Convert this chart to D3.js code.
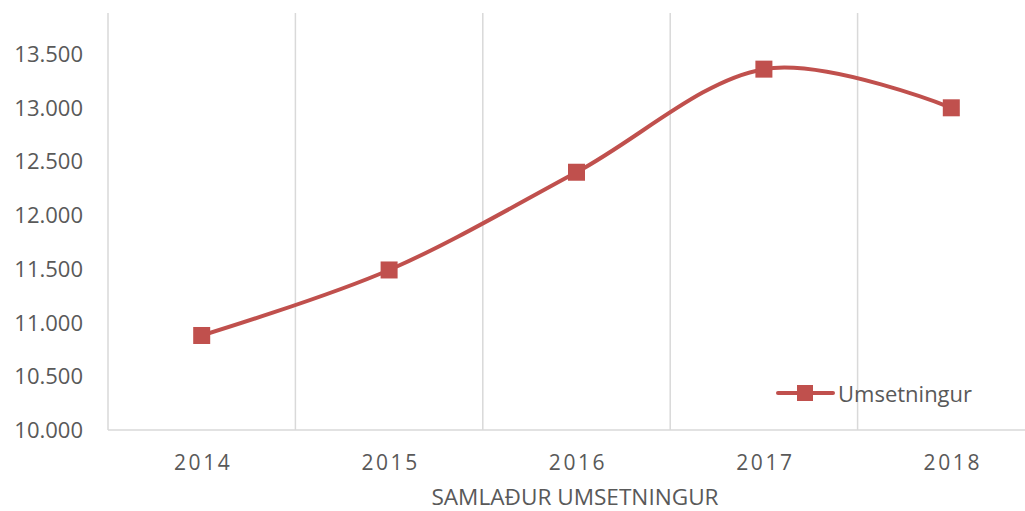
<!DOCTYPE html>
<html lang="is">
<head>
    <meta charset="UTF-8">
    <title>Samlaður umsetningur</title>
    <script src="https://d3js.org/d3.v7.min.js"></script>
    <style>
        body { margin: 0; background: #fff; }
        text { font-family: "Open Sans", "Noto Sans", sans-serif; fill: #595959; }
    </style>
</head>
<body>
    <div id="chart"></div>

    <script>
        // Data
        const years = ["2014", "2015", "2016", "2017", "2018"];
        const umsetningur = [10880, 11490, 12400, 13360, 13000];
        const yTicks = [10000, 10500, 11000, 11500, 12000, 12500, 13000, 13500];
        const seriesName = "Umsetningur";
        const axisTitle = "SAMLAÐUR UMSETNINGUR";

        const W = 1025, H = 511;
        const plot = { left: 108, right: 1045, top: 13, bottom: 430 };
        const red = "#c0504d";
        const grid = "#d9d9d9";

        const svg = d3.select("#chart")
            .append("svg")
            .attr("width", W)
            .attr("height", H);

        const x = d3.scaleBand()
            .domain(years)
            .range([plot.left, plot.right])
            .paddingInner(0)
            .paddingOuter(0);

        const y = d3.scaleLinear()
            .domain([10000, 14000])
            .range([plot.bottom, plot.bottom - 4 * 107.4]);

        const fmt = v => d3.format(",")(v).replace(/,/g, ".");

        // vertical gridlines at category boundaries
        svg.append("g")
            .selectAll("line")
            .data(years.slice(1))
            .join("line")
            .attr("x1", d => x(d))
            .attr("x2", d => x(d))
            .attr("y1", plot.top)
            .attr("y2", plot.bottom)
            .attr("stroke", grid)
            .attr("stroke-width", 1.5);

        // left axis line + bottom axis line
        svg.append("line")
            .attr("x1", plot.left).attr("x2", plot.left)
            .attr("y1", plot.top).attr("y2", plot.bottom)
            .attr("stroke", grid).attr("stroke-width", 1.5);
        svg.append("line")
            .attr("x1", plot.left).attr("x2", W)
            .attr("y1", plot.bottom).attr("y2", plot.bottom)
            .attr("stroke", grid).attr("stroke-width", 1.5);

        // y tick labels
        svg.append("g")
            .selectAll("text")
            .data(yTicks)
            .join("text")
            .attr("x", 83)
            .attr("y", d => y(d))
            .attr("dy", "0.36em")
            .attr("text-anchor", "end")
            .style("font-size", "22px")
            .text(fmt);

        // x tick labels
        svg.append("g")
            .selectAll("text")
            .data(years)
            .join("text")
            .attr("x", d => x(d) + x.bandwidth() / 2 + 1.5)
            .attr("y", 470)
            .attr("text-anchor", "middle")
            .style("font-size", "21px")
            .style("letter-spacing", "2.6px")
            .text(d => d);

        // axis title
        svg.append("text")
            .attr("x", 575)
            .attr("y", 505)
            .attr("text-anchor", "middle")
            .style("font-size", "22.6px")
            .text(axisTitle);

        // smoothed line
        const pts = years.map((yr, i) => [x(yr) + x.bandwidth() / 2, y(umsetningur[i])]);
        svg.append("path")
            .datum(pts)
            .attr("fill", "none")
            .attr("stroke", red)
            .attr("stroke-width", 4)
            .attr("stroke-linejoin", "round")
            .attr("d", d3.line().curve(d3.curveCardinal.tension(0)));

        // markers
        svg.append("g")
            .selectAll("rect")
            .data(pts)
            .join("rect")
            .attr("x", d => d[0] - 8.5)
            .attr("y", d => d[1] - 8.5)
            .attr("width", 17)
            .attr("height", 17)
            .attr("fill", red);

        // legend
        const lg = svg.append("g").attr("transform", "translate(778,393)");
        lg.append("line")
            .attr("x1", 0).attr("x2", 55)
            .attr("stroke", red).attr("stroke-width", 4)
            .attr("stroke-linecap", "round");
        lg.append("rect")
            .attr("x", 19).attr("y", -8)
            .attr("width", 16).attr("height", 16)
            .attr("fill", red);
        lg.append("text")
            .attr("x", 60)
            .attr("y", 9)
            .style("font-size", "22px")
            .text(seriesName);
    </script>
</body>
</html>
